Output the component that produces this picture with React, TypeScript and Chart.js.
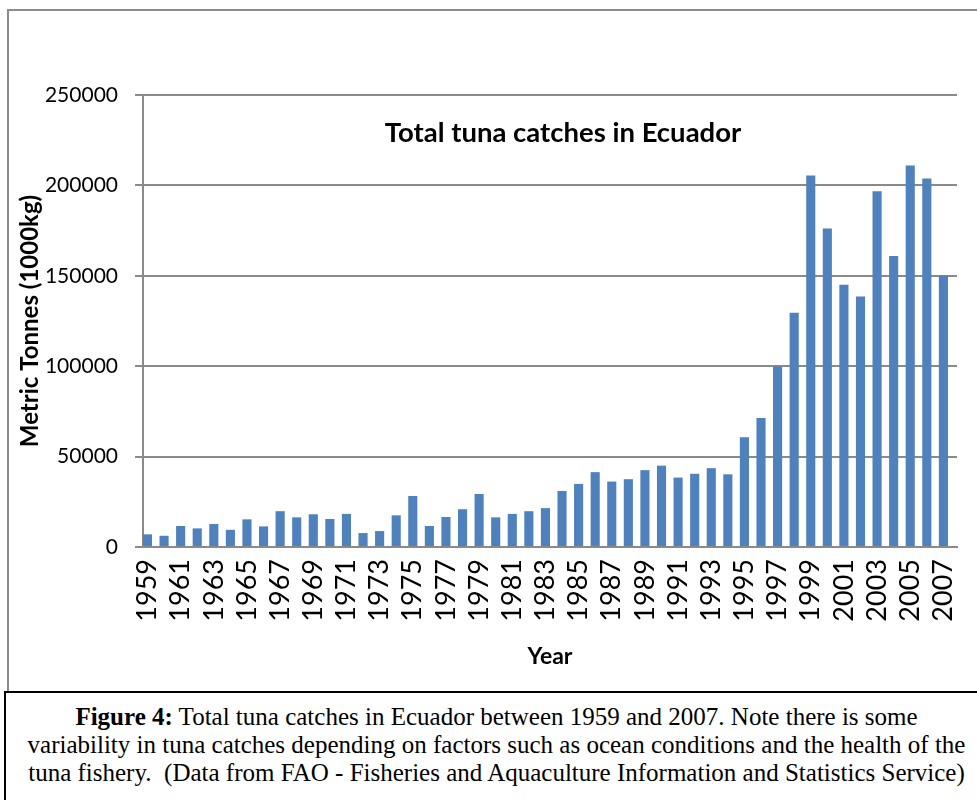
import React, { useEffect, useRef } from "react";
import { Chart, registerables } from "chart.js";

Chart.register(...registerables);

const years: number[] = [
  1959, 1960, 1961, 1962, 1963, 1964, 1965, 1966, 1967, 1968,
  1969, 1970, 1971, 1972, 1973, 1974, 1975, 1976, 1977, 1978,
  1979, 1980, 1981, 1982, 1983, 1984, 1985, 1986, 1987, 1988,
  1989, 1990, 1991, 1992, 1993, 1994, 1995, 1996, 1997, 1998,
  1999, 2000, 2001, 2002, 2003, 2004, 2005, 2006, 2007,
];

const catches: number[] = [
  7000, 6200, 11600, 10300, 12700, 9500, 15300, 11400, 19800, 16400,
  18100, 15500, 18300, 7700, 8800, 17500, 28200, 11600, 16600, 20900,
  29300, 16400, 18300, 19800, 21500, 31000, 34900, 41400, 36200, 37500,
  42500, 45000, 38400, 40500, 43600, 40200, 60700, 71400, 99800, 129500,
  205500, 176200, 145000, 138500, 196700, 161000, 211000, 203800, 150000,
];

const yTicks: number[] = [0, 50000, 100000, 150000, 200000, 250000];

const chartTitle = "Total tuna catches in Ecuador";
const yTitle = "Metric Tonnes (1000kg)";
const xTitle = "Year";

const FONT = "Lato, 'Open Sans', sans-serif";
const GRID = "#8a8a8a";

const titlePlugin = {
  id: "overlayTitle",
  afterDraw(chart: any) {
    const { ctx, chartArea } = chart;
    ctx.save();
    ctx.font = `bold 27.5px ${FONT}`;
    ctx.fillStyle = "#000";
    ctx.textAlign = "center";
    ctx.textBaseline = "middle";
    const x = chartArea.left + (chartArea.right - chartArea.left) * 0.516;
    const y = chartArea.top + 38;
    ctx.fillText(chartTitle, x, y);
    ctx.restore();
  },
};

function TunaChart() {
  const ref = useRef<HTMLCanvasElement | null>(null);
  useEffect(() => {
    if (!ref.current) return;
    const points = years.map((yr, i) => ({ x: i, y: catches[i] }));
    const chart = new Chart(ref.current, {
      type: "bar",
      data: {
        datasets: [
          {
            label: "Catches",
            data: points as any,
            backgroundColor: "#4F81BD",
            borderWidth: 0,
            barPercentage: 0.55,
            categoryPercentage: 1,
          },
        ],
      },
      options: {
        animation: false,
        responsive: false,
        maintainAspectRatio: false,
        layout: { padding: { left: 14, top: 95, right: 20, bottom: 17 } },
        plugins: { legend: { display: false }, tooltip: { enabled: false } },
        scales: {
          x: {
            type: "linear",
            offset: false,
            min: -0.27,
            max: 48.82,
            grid: { display: false, drawTicks: false, offset: false },
            border: { display: true, color: GRID, width: 2 },
            afterBuildTicks: (scale: any) => {
              scale.ticks = years
                .map((_, i) => i)
                .filter((i) => i % 2 === 0)
                .map((i) => ({ value: i }));
            },
            afterFit: (scale: any) => {
              scale.height = 690 - 17 - 547;
              scale.paddingLeft = 0;
              scale.paddingRight = 0;
            },
            ticks: {
              autoSkip: false,
              maxRotation: 90,
              minRotation: 90,
              padding: 12,
              color: "#000",
              font: { family: FONT, size: 27 },
              callback: (v: any) => String(years[Math.round(Number(v))] ?? ""),
            },
            title: {
              display: true,
              text: xTitle,
              color: "#000",
              font: { family: FONT, size: 23, weight: "bold" },
              padding: { top: 4, bottom: 3 },
            },
          },
          y: {
            min: 0,
            max: 250000,
            afterBuildTicks: (scale: any) => {
              scale.ticks = yTicks.map((v) => ({ value: v }));
            },
            afterFit: (scale: any) => {
              scale.width = 143 - 14;
            },
            grid: { color: GRID, lineWidth: 2, tickLength: 8, drawTicks: true },
            border: { display: true, color: GRID, width: 2 },
            ticks: {
              padding: 17,
              color: "#000",
              font: { family: FONT, size: 21 },
              callback: (v: any) => String(v),
            },
            title: {
              display: true,
              text: yTitle,
              color: "#000",
              font: { family: FONT, size: 24, weight: "bold" },
              padding: { top: 2, bottom: 4 },
            },
          },
        },
      },
      plugins: [titlePlugin],
    });
    return () => chart.destroy();
  }, []);
  return <canvas ref={ref} width={977} height={690} style={{ display: "block", width: 977, height: 690 }} />;
}

export default function App() {
  return (
    <div style={{ position: "absolute", left: 0, top: 0, width: 977, height: 800, overflow: "hidden", background: "#fff" }}>
      <div
        style={{
          position: "absolute",
          left: 7,
          top: 9,
          width: 990,
          height: 700,
          borderLeft: "2px solid #8c8c8c",
          borderTop: "2px solid #8c8c8c",
        }}
      />
      <div style={{ position: "absolute", left: 0, top: 0 }}>
        <TunaChart />
      </div>
      <div
        style={{
          position: "absolute",
          left: 4,
          top: 691,
          width: 990,
          height: 130,
          border: "2px solid #000",
          boxSizing: "border-box",
          background: "#fff",
        }}
      />
      <div
        style={{
          position: "absolute",
          left: 0,
          top: 703,
          width: 977,
          textAlign: "center",
          fontFamily: "'Liberation Serif', 'Times New Roman', serif",
          fontSize: 25,
          lineHeight: "28px",
          color: "#000",
          whiteSpace: "pre",
        }}
      >
        <div style={{ paddingLeft: 16 }}>
          <b>Figure 4:</b> Total tuna catches in Ecuador between 1959 and 2007. Note there is some
        </div>
        <div style={{ paddingLeft: 16 }}>
          variability in tuna catches depending on factors such as ocean conditions and the health of the
        </div>
        <div style={{ paddingLeft: 16 }}>
          tuna fishery.  (Data from FAO - Fisheries and Aquaculture Information and Statistics Service)
        </div>
      </div>
    </div>
  );
}
